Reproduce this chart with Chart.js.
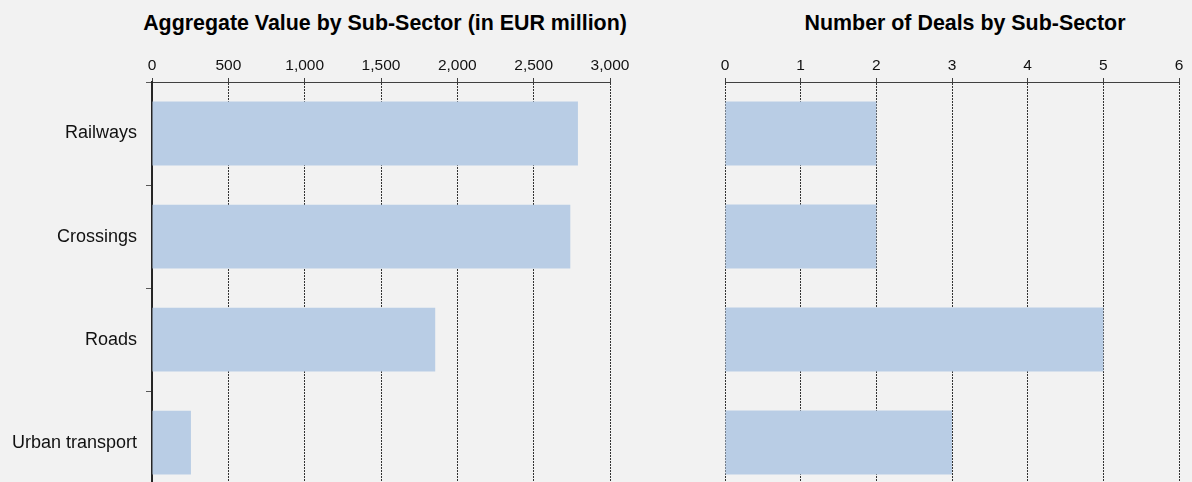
<!DOCTYPE html>
<html>
<head>
<meta charset="utf-8">
<script src="https://cdn.jsdelivr.net/npm/chart.js@4"></script>
<style>
    body { margin: 0; background: #f2f2f2; width: 1192px; height: 482px; overflow: hidden; position: relative; font-family: "Liberation Sans", Arial, sans-serif; }
    .title { position: absolute; top: 13px; width: 600px; text-align: center; font-size: 21.4px; line-height: 21px; font-weight: bold; color: #000; }
    canvas { position: absolute; top: 0; }
</style>
</head>
<body>
<div class="title" style="left: 85px;">Aggregate Value by Sub-Sector (in EUR million)</div>
<div class="title" style="left: 665px;">Number of Deals by Sub-Sector</div>
<canvas id="valueChart" width="640" height="514" style="left: 0;"></canvas>
<canvas id="dealsChart" width="532" height="500" style="left: 660px;"></canvas>
<script>
// 数据
const categories = ['Railways', 'Crossings', 'Roads', 'Urban transport'];
const aggregateValue = [2790, 2740, 1855, 255];
const dealCount = [2, 2, 5, 3];
const valueTicks = [0, 500, 1000, 1500, 2000, 2500, 3000];
const dealTicks = [0, 1, 2, 3, 4, 5, 6];

const barColor = '#b9cde5';
const fontFamily = '"Liberation Sans", Arial, sans-serif';

function xScale(ticks, fmt) {
    return {
        position: 'top',
        min: ticks[0],
        max: ticks[ticks.length - 1],
        afterBuildTicks: function(scale) {
            scale.ticks = ticks.map(v => ({ value: v }));
        },
        afterFit: function(scale) {
            scale.height = 82;
        },
        grid: {
            color: '#333333',
            lineWidth: 1,
            tickLength: 4,
            tickColor: '#404040',
            tickBorderDash: []
        },
        border: {
            display: true,
            color: '#404040',
            width: 1,
            dash: [2, 1]
        },
        ticks: {
            color: '#111111',
            padding: 3,
            maxRotation: 0,
            font: { family: fontFamily, size: 15.5 },
            callback: fmt
        }
    };
}

function makeChart(id, data, ticks, fmt, showY, padding) {
    const ctx = document.getElementById(id);
    return new Chart(ctx, {
        type: 'bar',
        data: {
            labels: categories,
            datasets: [{
                data: data,
                backgroundColor: barColor,
                borderWidth: 0,
                barPercentage: 0.62,
                categoryPercentage: 1
            }]
        },
        options: {
            indexAxis: 'y',
            responsive: false,
            animation: false,
            layout: { padding: padding },
            plugins: {
                legend: { display: false },
                title: { display: false },
                tooltip: { enabled: false }
            },
            scales: {
                x: xScale(ticks, fmt),
                y: {
                    display: showY,
                    afterFit: function(scale) {
                        scale.width = showY ? 152 : 0;
                    },
                    grid: {
                        offset: true,
                        drawOnChartArea: false,
                        tickLength: 6,
                        tickColor: '#595959'
                    },
                    border: {
                        display: true,
                        color: '#262626',
                        width: 2
                    },
                    ticks: {
                        color: '#111111',
                        padding: 9,
                        font: { family: fontFamily, size: 18 }
                    }
                }
            }
        }
    });
}

makeChart('valueChart', aggregateValue, valueTicks,
    v => v.toLocaleString('en-US'), true, { top: 0, left: 0, right: 30, bottom: 6 });
makeChart('dealsChart', dealCount, dealTicks,
    v => String(v), false, { top: 0, left: 65, right: 13, bottom: 6 });
</script>
</body>
</html>
